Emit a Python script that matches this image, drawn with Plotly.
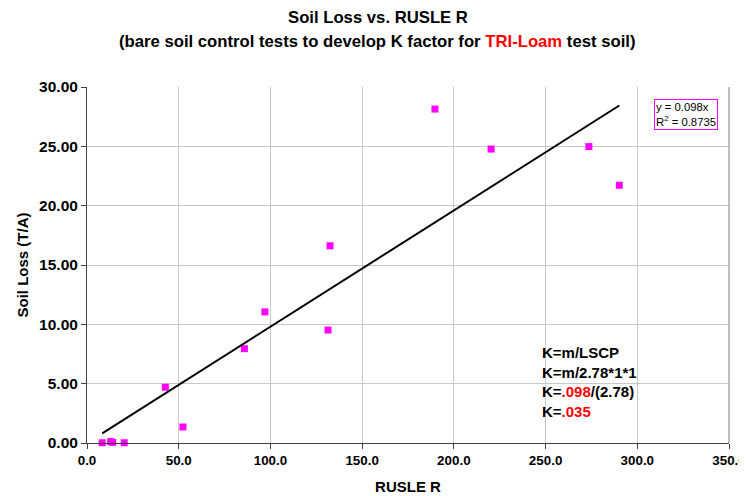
import plotly.graph_objects as go

rusle_r = [8.3, 12.9, 14.0, 20.3, 42.7, 52.3, 85.8, 97.0, 131.4, 132.5, 189.7, 220.3, 273.6, 290.2]
soil_loss = [0.02, 0.12, 0.05, 0.02, 4.70, 1.35, 7.95, 11.05, 9.52, 16.62, 28.14, 24.77, 24.98, 21.72]
slope = 0.098
r_squared = 0.8735
x_ticks = [0, 50, 100, 150, 200, 250, 300, 350]
y_ticks = [0, 5, 10, 15, 20, 25, 30]

font = "Liberation Sans, Arial, sans-serif"
OFF = 8  # default page body margin
W, H = 747 - OFF, 496 - OFF
L, R, T, B = 87 - OFF, 18, 87 - OFF, 53
pw, ph = W - L - R, H - T - B

def px_x(p):
    return (p - OFF - L) / pw

def px_y(p):
    return (H - B - (p - OFF)) / ph

fig = go.Figure()
fig.add_trace(go.Scatter(
    x=rusle_r, y=soil_loss, mode="markers",
    marker=dict(symbol="square", size=7, color="#ff00ff"),
    showlegend=False, cliponaxis=False))
x_line = [min(rusle_r), max(rusle_r)]
fig.add_trace(go.Scatter(
    x=x_line, y=[slope * v for v in x_line], mode="lines",
    line=dict(color="black", width=2), showlegend=False))

fig.update_layout(
    width=W, height=H,
    margin=dict(l=L, r=R, t=T, b=B, autoexpand=False),
    paper_bgcolor="white", plot_bgcolor="white",
    font=dict(family=font, color="black"),
    xaxis=dict(
        range=[0, 350], tickvals=x_ticks, ticktext=[f"<b>{v:.1f}</b>" for v in x_ticks],
        showgrid=True, gridcolor="#c8c8c8", gridwidth=1, automargin=False,
        showline=True, linecolor="#404040", linewidth=1, ticklabeloverflow="allow",
        ticks="outside", ticklen=5, tickcolor="#404040",
        tickfont=dict(size=13.4, family=font), zeroline=False,
        title=dict(text="<b>RUSLE R</b>", font=dict(size=15, family=font), standoff=14)),
    yaxis=dict(
        range=[0, 30], tickvals=y_ticks, ticktext=[f"<b>{v:.2f}</b>" for v in y_ticks],
        showgrid=True, gridcolor="#c8c8c8", gridwidth=1, automargin=False,
        showline=True, linecolor="#404040", linewidth=1, ticklabeloverflow="allow",
        ticks="outside", ticklen=5, tickcolor="#404040",
        tickfont=dict(size=15.5, family=font), zeroline=False,
        title=dict(text="<b>Soil Loss (T/A)</b>", font=dict(size=15, family=font), standoff=6)),
)

# right border of plot area
fig.add_shape(type="line", xref="paper", yref="paper", x0=1, x1=1, y0=0, y1=1,
              line=dict(color="#808080", width=1))

# title lines
fig.add_annotation(xref="paper", yref="paper", x=px_x(378), y=px_y(17), xanchor="center",
                   yanchor="middle", showarrow=False,
                   text="<b>Soil Loss vs. RUSLE R</b>", font=dict(size=16.7, family=font))
fig.add_annotation(xref="paper", yref="paper", x=px_x(377), y=px_y(41), xanchor="center",
                   yanchor="middle", showarrow=False,
                   text="<b>(bare soil control tests to develop K factor for "
                        "<span style='color:#ff0000'>TRI-Loam</span> test soil)</b>",
                   font=dict(size=16.7, family=font))

fig.add_annotation(
    xref="paper", yref="paper", x=px_x(718), y=px_y(99), xanchor="right", yanchor="top",
    text=f"y = {slope}x<br>R<sup>2</sup> = {r_squared}", showarrow=False, align="left",
    font=dict(size=11.3, family=font), bordercolor="#ff00ff", borderwidth=1, borderpad=1,
    bgcolor="white")

fig.add_annotation(
    xref="paper", yref="paper", x=px_x(540), y=px_y(342), xanchor="left", yanchor="top",
    text=("<b>K=m/LSCP<br>K=m/2.78*1*1<br>K=<span style='color:#ff0000'>.098</span>/(2.78)"
          "<br>K=<span style='color:#ff0000'>.035</span></b>"),
    showarrow=False, align="left", font=dict(size=15, family=font))

fig.write_html("out.html", default_width=f"{W}px", default_height=f"{H}px")
